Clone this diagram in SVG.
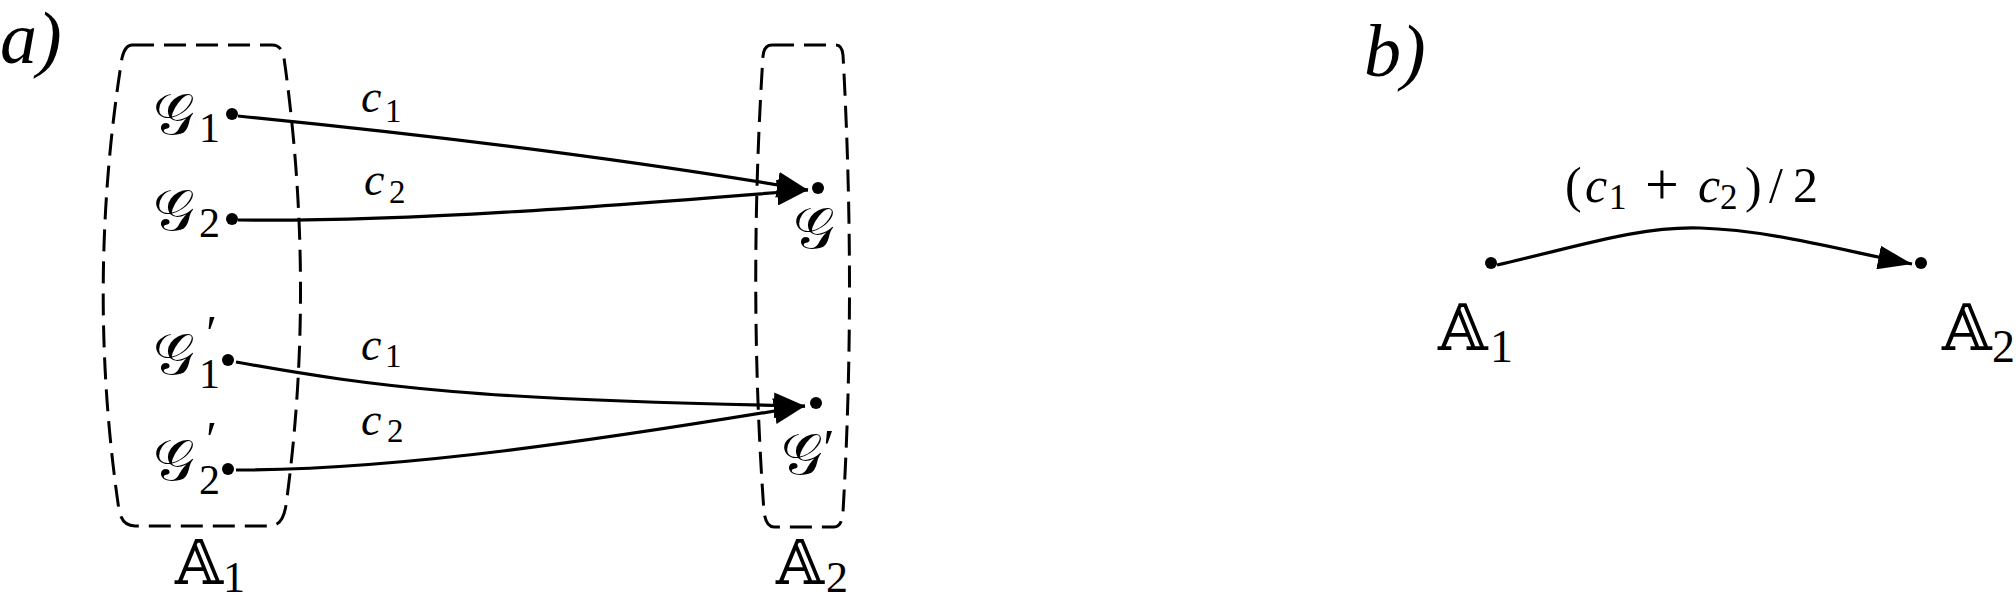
<svg xmlns="http://www.w3.org/2000/svg" width="2016" height="600" viewBox="0 0 2016 600">
<style>
.t{font-family:"Liberation Serif",serif;fill:#000}
.i{font-style:italic}
.m{font-family:"DejaVu Serif","DejaVu Sans","Noto Sans",serif;fill:#000}
.box{fill:none;stroke:#000;stroke-width:3;stroke-dasharray:22 10}
.ln{fill:none;stroke:#000;stroke-width:3.2}
</style>
<defs>
<marker id="ah" markerUnits="userSpaceOnUse" viewBox="0 0 31 26" refX="31" refY="13" markerWidth="31" markerHeight="26" orient="auto">
<path d="M0 0 L31 13 L0 26 Z" fill="#000"/>
</marker>
<marker id="ahb" markerUnits="userSpaceOnUse" viewBox="0 0 34 24" refX="34" refY="12" markerWidth="34" markerHeight="24" orient="auto">
<path d="M0 0 L34 12 L0 24 Z" fill="#000"/>
</marker>
</defs>
<rect width="2016" height="600" fill="#fff"/>
<text class="t i" x="0" y="63" font-size="74">a)</text>
<text class="t i" x="1364" y="76" font-size="74">b)</text>
<g id="boxA1">
<path class="box" d="M132 45 L272 45 Q282 45 284 58 Q316 285 286 505 Q283 526 270 526 L135 526 Q122 526 119 510 Q86 285 122 58 Q125 45 132 45 Z"/>
<text x="175" y="584"><tspan class="m" font-size="62">𝔸</tspan><tspan class="t" x="223" y="592" font-size="44">1</tspan></text>
</g>
<g id="boxA2">
<path class="box" d="M772 45 L836 45 Q842 45 843 55 Q856 290 843 512 Q842 527 834 527 L774 527 Q766 527 764 512 Q748 290 763 56 Q764 45 772 45 Z"/>
<text x="776" y="584"><tspan class="m" font-size="62">𝔸</tspan><tspan class="t" x="826" y="592" font-size="44">2</tspan></text>
</g>
<g id="G1">
<circle cx="232" cy="114" r="6"/>
<text x="153" y="134"><tspan class="m" font-size="58">𝒢</tspan><tspan class="t" x="199" y="142" font-size="42">1</tspan></text>
</g>
<g id="G2">
<circle cx="232" cy="219" r="6"/>
<text x="153" y="230"><tspan class="m" font-size="58">𝒢</tspan><tspan class="t" x="199" y="237" font-size="42">2</tspan></text>
</g>
<g id="G1p">
<circle cx="228" cy="360" r="6"/>
<text x="153" y="374"><tspan class="m" font-size="58">𝒢</tspan><tspan class="t i" x="203" y="350" font-size="50">′</tspan><tspan class="t" x="199" y="388" font-size="42">1</tspan></text>
</g>
<g id="G2p">
<circle cx="228" cy="469" r="6"/>
<text x="153" y="480"><tspan class="m" font-size="58">𝒢</tspan><tspan class="t i" x="203" y="456" font-size="50">′</tspan><tspan class="t" x="199" y="494" font-size="42">2</tspan></text>
</g>
<g id="G">
<circle cx="818" cy="188" r="6"/>
<text class="m" x="793" y="248" font-size="58">𝒢</text>
</g>
<g id="Gp">
<circle cx="816" cy="403" r="6"/>
<text x="781" y="474"><tspan class="m" font-size="58">𝒢</tspan><tspan class="t i" x="820" y="466" font-size="52">′</tspan></text>
</g>
<g id="B1">
<circle cx="1491" cy="263" r="6"/>
<text x="1438" y="350"><tspan class="m" font-size="64">𝔸</tspan><tspan class="t" x="1490" y="362" font-size="46">1</tspan></text>
</g>
<g id="B2">
<circle cx="1921" cy="263" r="6"/>
<text x="1942" y="350"><tspan class="m" font-size="64">𝔸</tspan><tspan class="t" x="1992" y="362" font-size="46">2</tspan></text>
</g>
<g id="connectors">
<path class="ln" d="M238 116 C450 137 650 163 808 190" marker-end="url(#ah)"/>
<path class="ln" d="M238 220 C400 222 600 207 808 190" marker-end="url(#ah)"/>
<path class="ln" d="M236 362 C380 388 480 400 805 406" marker-end="url(#ah)"/>
<path class="ln" d="M236 470 C400 470 600 440 805 406" marker-end="url(#ah)"/>
<path class="ln" d="M1497 265 C1580 246 1640 226 1700 228 C1770 230 1840 250 1912 264" marker-end="url(#ahb)"/>
<text class="t" y="112" font-size="46"><tspan class="i" x="361">c</tspan><tspan x="385" y="122" font-size="33">1</tspan></text>
<text class="t" y="195" font-size="46"><tspan class="i" x="364">c</tspan><tspan x="389" y="203" font-size="33">2</tspan></text>
<text class="t" y="360" font-size="46"><tspan class="i" x="361">c</tspan><tspan x="385" y="367" font-size="33">1</tspan></text>
<text class="t" y="435" font-size="46"><tspan class="i" x="361">c</tspan><tspan x="387" y="442" font-size="33">2</tspan></text>
<text class="t" y="202" font-size="50"><tspan x="1565">(</tspan><tspan class="i" x="1585">c</tspan><tspan x="1609" y="209" font-size="35">1</tspan><tspan x="1645" y="204" font-size="60">+</tspan><tspan class="i" x="1698" y="202">c</tspan><tspan x="1720" y="209" font-size="35">2</tspan><tspan x="1745" y="202">)</tspan><tspan x="1769">/</tspan><tspan x="1793">2</tspan></text>
</g>
</svg>
